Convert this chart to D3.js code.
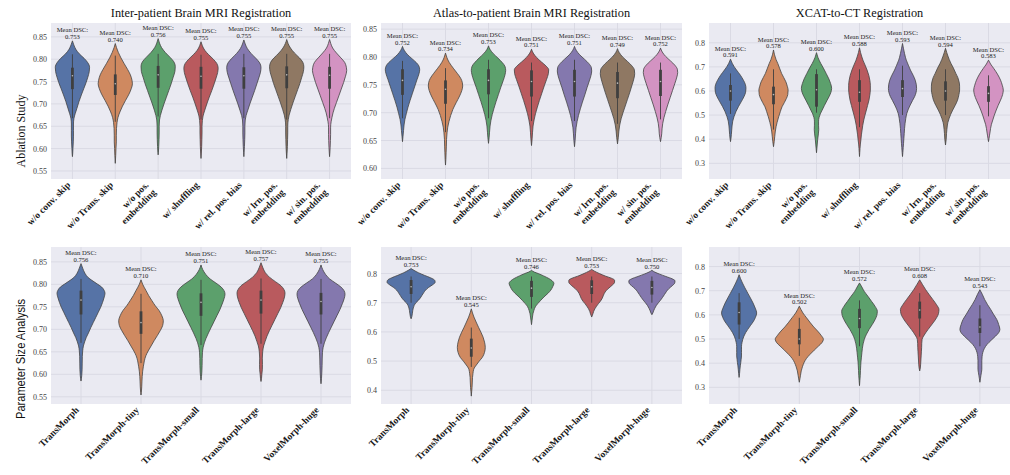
<!DOCTYPE html>
<html><head><meta charset="utf-8">
<script src="https://cdn.jsdelivr.net/npm/d3@7"></script>
<style>body{margin:0;background:#fff}svg{display:block}</style>
</head><body><svg id="chart" width="1010" height="475"></svg>
<script>
// ---- categories and labels ----
const ablationLabels = ["w/o conv. skip","w/o Trans. skip","w/o pos.\nembedding","w/ shuffling","w/ rel. pos. bias","w/ lrn. pos.\nembedding","w/ sin. pos.\nembedding"];
const sizeLabels = ["TransMorph","TransMorph-tiny","TransMorph-small","TransMorph-large","VoxelMorph-huge"];
const columnTitles = ["Inter-patient Brain MRI Registration","Atlas-to-patient Brain MRI Registration","XCAT-to-CT Registration"];
const rowTitles = ["Ablation Study","Parameter Size Analysis"];
const palette = ["#5673a6","#cf8960","#5ca06c","#b95a5e","#8478ae","#8f7863","#d393c2"];

// ---- mean DSC per model ----
const interAblMeans = [0.753,0.740,0.756,0.755,0.755,0.755,0.755];
const atlasAblMeans = [0.752,0.734,0.753,0.751,0.751,0.749,0.752];
const xcatAblMeans  = [0.591,0.578,0.600,0.588,0.593,0.594,0.583];
const interSizeMeans = [0.756,0.710,0.751,0.757,0.755];
const atlasSizeMeans = [0.753,0.545,0.746,0.753,0.750];
const xcatSizeMeans  = [0.600,0.502,0.572,0.608,0.543];

// ---- y ticks and limits ----
const interAblTicks = [0.55,0.60,0.65,0.70,0.75,0.80,0.85];
const atlasAblTicks = [0.60,0.65,0.70,0.75,0.80,0.85];
const xcatAblTicks  = [0.3,0.4,0.5,0.6,0.7,0.8];
const interSizeTicks = [0.55,0.60,0.65,0.70,0.75,0.80,0.85];
const atlasSizeTicks = [0.4,0.5,0.6,0.7,0.8];
const xcatSizeTicks  = [0.3,0.4,0.5,0.6,0.7,0.8];
const interAblLimits = [0.532,0.881];
const atlasAblLimits = [0.581,0.861];
const xcatAblLimits  = [0.235,0.882];
const interSizeLimits = [0.534,0.883];
const atlasSizeLimits = [0.353,0.891];
const xcatSizeLimits  = [0.231,0.881];

// ---- inner box: [q1, median, q3, lower whisker, upper whisker] ----
const interAblBox = [[.733,.763,.781,.668,.811],[.720,.745,.766,.660,.808],[.736,.765,.785,.672,.812],[.734,.762,.783,.665,.810],[.734,.763,.782,.668,.812],[.735,.765,.784,.665,.812],[.734,.764,.783,.668,.812]];
const atlasAblBox = [[.732,.758,.778,.690,.793],[.716,.742,.758,.665,.780],[.733,.758,.778,.690,.795],[.729,.756,.776,.685,.790],[.729,.756,.777,.685,.795],[.726,.753,.773,.680,.790],[.730,.756,.777,.688,.790]];
const xcatAblBox = [[.560,.600,.625,.505,.673],[.545,.585,.618,.440,.690],[.535,.605,.670,.510,.690],[.555,.595,.645,.450,.690],[.575,.610,.645,.500,.705],[.560,.600,.640,.500,.690],[.555,.590,.620,.495,.665]];
const interSizeBox = [[.733,.765,.786,.670,.812],[.690,.715,.740,.625,.779],[.730,.760,.780,.665,.810],[.735,.765,.786,.668,.813],[.733,.762,.781,.668,.812]];
const atlasSizeBox = [[.730,.755,.778,.700,.790],[.515,.545,.577,.480,.615],[.720,.750,.775,.680,.790],[.730,.755,.777,.700,.790],[.728,.752,.775,.700,.790]];
const xcatSizeBox = [[.560,.610,.652,.500,.690],[.478,.500,.542,.430,.588],[.545,.585,.625,.470,.660],[.585,.620,.655,.510,.690],[.525,.550,.585,.470,.640]];

// ---- density outlines: [DSC value, half-width relative to the widest violin] ----
const interAblShape = [
 [[.841,0],[.832,.08],[.822,.2],[.812,.4],[.802,.68],[.792,.9],[.782,1],[.772,.98],[.760,.9],[.748,.8],[.735,.67],[.720,.52],[.705,.38],[.690,.26],[.678,.16],[.668,.09],[.655,.06],[.640,.06],[.628,.06],[.615,.05],[.600,.03],[.588,.015],[.582,0]],
 [[.835,0],[.826,.07],[.815,.18],[.803,.33],[.790,.52],[.777,.72],[.765,.88],[.752,.98],[.745,1],[.735,.94],[.722,.8],[.708,.6],[.695,.42],[.682,.27],[.670,.16],[.658,.1],[.645,.07],[.630,.06],[.615,.06],[.600,.04],[.585,.025],[.567,0]],
 [[.846,0],[.836,.08],[.826,.2],[.815,.42],[.804,.7],[.794,.92],[.784,1],[.773,.98],[.760,.88],[.745,.76],[.730,.62],[.715,.48],[.700,.34],[.686,.22],[.674,.13],[.664,.08],[.650,.06],[.635,.06],[.620,.05],[.605,.035],[.592,.015],[.586,0]],
 [[.839,0],[.830,.08],[.820,.22],[.810,.45],[.800,.72],[.790,.93],[.780,1],[.770,.97],[.758,.88],[.745,.77],[.730,.63],[.715,.48],[.700,.34],[.686,.22],[.673,.12],[.663,.08],[.650,.06],[.635,.06],[.620,.05],[.605,.04],[.590,.02],[.578,0]],
 [[.843,0],[.834,.08],[.824,.2],[.813,.42],[.802,.7],[.792,.92],[.782,1],[.771,.97],[.758,.87],[.745,.76],[.730,.63],[.715,.49],[.700,.35],[.686,.23],[.674,.13],[.664,.08],[.650,.06],[.635,.06],[.620,.05],[.605,.035],[.592,.015],[.582,0]],
 [[.844,0],[.835,.08],[.825,.22],[.814,.45],[.803,.74],[.793,.94],[.783,1],[.772,.97],[.760,.88],[.746,.77],[.732,.64],[.717,.5],[.702,.36],[.688,.24],[.675,.14],[.665,.09],[.650,.06],[.635,.06],[.620,.05],[.605,.04],[.590,.02],[.578,0]],
 [[.844,0],[.835,.07],[.825,.18],[.814,.4],[.803,.66],[.793,.88],[.782,.98],[.775,1],[.762,.93],[.748,.82],[.733,.68],[.718,.54],[.703,.4],[.690,.28],[.680,.2],[.670,.14],[.660,.09],[.648,.06],[.632,.06],[.618,.05],[.603,.035],[.590,.015],[.582,0]]
];
const atlasAblShape = [
 [[.819,0],[.812,.1],[.804,.3],[.797,.55],[.790,.8],[.784,.95],[.777,1],[.770,.96],[.760,.85],[.748,.72],[.735,.58],[.722,.44],[.710,.32],[.698,.22],[.688,.14],[.678,.09],[.668,.06],[.658,.03],[.648,0]],
 [[.807,0],[.799,.08],[.790,.22],[.780,.45],[.770,.7],[.762,.88],[.754,.98],[.748,1],[.740,.95],[.730,.82],[.718,.62],[.706,.43],[.695,.3],[.684,.2],[.674,.13],[.664,.09],[.652,.06],[.640,.05],[.628,.035],[.616,.02],[.606,0]],
 [[.820,0],[.813,.1],[.806,.28],[.798,.55],[.790,.8],[.783,.96],[.776,1],[.768,.96],[.758,.86],[.746,.72],[.733,.58],[.720,.44],[.708,.32],[.697,.22],[.686,.14],[.676,.09],[.665,.06],[.655,.035],[.645,0]],
 [[.814,0],[.807,.1],[.799,.3],[.791,.58],[.784,.84],[.777,1],[.770,.98],[.760,.88],[.748,.74],[.735,.6],[.722,.46],[.710,.34],[.698,.23],[.687,.15],[.676,.09],[.665,.06],[.653,.035],[.641,0]],
 [[.819,0],[.812,.1],[.804,.3],[.796,.58],[.788,.84],[.781,.98],[.775,1],[.767,.96],[.757,.86],[.745,.73],[.732,.6],[.719,.46],[.707,.34],[.695,.23],[.684,.15],[.673,.09],[.662,.06],[.650,.035],[.639,0]],
 [[.815,0],[.808,.1],[.800,.3],[.792,.58],[.784,.84],[.777,.98],[.770,1],[.762,.96],[.750,.85],[.737,.72],[.724,.58],[.712,.45],[.700,.32],[.689,.21],[.678,.13],[.667,.08],[.655,.045],[.644,0]],
 [[.816,0],[.809,.1],[.801,.3],[.793,.58],[.785,.84],[.778,.98],[.772,1],[.764,.95],[.753,.84],[.740,.7],[.727,.56],[.714,.42],[.702,.3],[.691,.2],[.681,.13],[.671,.09],[.662,.07],[.655,.04],[.648,0]]
];
const xcatAblShape = [
 [[.732,0],[.715,.1],[.700,.22],[.687,.35],[.665,.58],[.645,.75],[.628,.86],[.611,.9],[.595,.88],[.576,.78],[.555,.62],[.535,.46],[.515,.32],[.493,.2],[.475,.13],[.455,.09],[.438,.07],[.420,.05],[.405,.03],[.390,0]],
 [[.770,0],[.750,.06],[.730,.15],[.714,.25],[.695,.35],[.673,.47],[.655,.6],[.638,.72],[.620,.8],[.604,.85],[.585,.83],[.569,.75],[.552,.63],[.535,.5],[.515,.4],[.493,.3],[.470,.21],[.452,.15],[.430,.1],[.410,.07],[.390,.04],[.369,0]],
 [[.759,0],[.740,.08],[.725,.17],[.714,.25],[.695,.4],[.673,.56],[.650,.72],[.631,.82],[.611,.88],[.595,.84],[.578,.74],[.562,.62],[.540,.46],[.521,.33],[.505,.22],[.490,.15],[.475,.12],[.458,.12],[.440,.13],[.422,.11],[.400,.07],[.380,.045],[.360,.02],[.344,0]],
 [[.779,0],[.760,.06],[.745,.12],[.728,.2],[.708,.32],[.687,.44],[.665,.54],[.645,.6],[.624,.63],[.604,.63],[.583,.6],[.562,.55],[.540,.47],[.521,.4],[.500,.32],[.480,.25],[.458,.19],[.438,.15],[.418,.11],[.397,.08],[.380,.05],[.362,.03],[.345,.015],[.328,0]],
 [[.797,0],[.775,.06],[.755,.12],[.740,.17],[.728,.22],[.707,.34],[.687,.46],[.665,.62],[.645,.74],[.628,.8],[.611,.82],[.594,.79],[.576,.7],[.560,.58],[.542,.45],[.525,.34],[.507,.25],[.486,.19],[.466,.15],[.445,.12],[.424,.1],[.404,.08],[.383,.06],[.365,.04],[.345,.02],[.328,0]],
 [[.777,0],[.760,.07],[.745,.14],[.730,.22],[.714,.32],[.695,.46],[.673,.6],[.655,.72],[.638,.79],[.620,.82],[.604,.82],[.585,.78],[.562,.7],[.540,.56],[.521,.42],[.503,.3],[.486,.21],[.470,.14],[.459,.11],[.440,.08],[.424,.06],[.400,.04],[.376,0]],
 [[.728,0],[.712,.12],[.694,.3],[.670,.52],[.645,.7],[.624,.8],[.604,.86],[.585,.82],[.562,.7],[.540,.56],[.521,.45],[.500,.34],[.480,.25],[.462,.17],[.445,.12],[.430,.09],[.417,.06],[.403,.03],[.390,0]]
];
const interSizeShape = [
 [[.846,0],[.836,.07],[.824,.17],[.815,.3],[.809,.45],[.800,.7],[.794,.86],[.787,.96],[.780,1],[.772,.97],[.760,.9],[.749,.82],[.738,.72],[.727,.62],[.715,.51],[.704,.41],[.692,.31],[.682,.22],[.672,.15],[.663,.1],[.652,.07],[.640,.055],[.625,.05],[.610,.045],[.597,.03],[.590,.015],[.585,0]],
 [[.810,0],[.800,.07],[.787,.2],[.775,.32],[.764,.45],[.752,.6],[.742,.75],[.730,.87],[.719,.93],[.708,.9],[.697,.8],[.686,.68],[.675,.55],[.663,.42],[.652,.3],[.641,.2],[.630,.14],[.618,.1],[.607,.07],[.595,.05],[.585,.04],[.572,.03],[.560,.015],[.554,0]],
 [[.843,0],[.833,.07],[.822,.2],[.812,.38],[.803,.62],[.794,.84],[.786,.96],[.778,1],[.768,.96],[.756,.88],[.743,.78],[.730,.66],[.717,.54],[.704,.42],[.692,.31],[.680,.21],[.670,.14],[.660,.09],[.648,.06],[.635,.05],[.620,.045],[.605,.035],[.595,.02],[.587,0]],
 [[.848,0],[.838,.07],[.826,.18],[.816,.35],[.806,.6],[.797,.83],[.789,.95],[.781,1],[.772,.98],[.760,.91],[.748,.82],[.735,.7],[.722,.58],[.709,.46],[.697,.35],[.685,.25],[.673,.17],[.663,.11],[.650,.07],[.636,.055],[.622,.06],[.610,.055],[.600,.035],[.590,.02],[.584,0]],
 [[.843,0],[.833,.07],[.822,.19],[.812,.36],[.803,.6],[.794,.83],[.786,.96],[.778,1],[.769,.97],[.757,.89],[.744,.79],[.731,.67],[.718,.55],[.705,.43],[.693,.32],[.681,.22],[.670,.14],[.660,.09],[.648,.06],[.634,.05],[.620,.045],[.605,.035],[.590,.02],[.579,0]]
];
const atlasSizeShape = [
 [[.817,0],[.811,.12],[.803,.3],[.794,.55],[.785,.82],[.777,.98],[.770,1],[.762,.9],[.752,.72],[.743,.6],[.734,.52],[.725,.45],[.716,.38],[.708,.3],[.700,.2],[.691,.13],[.682,.09],[.674,.07],[.662,.05],[.652,.03],[.645,0]],
 [[.679,0],[.665,.05],[.651,.11],[.634,.2],[.616,.3],[.599,.4],[.582,.49],[.565,.55],[.547,.58],[.530,.55],[.513,.46],[.500,.33],[.490,.24],[.480,.15],[.472,.1],[.458,.07],[.444,.05],[.425,.04],[.409,.03],[.395,.015],[.380,0]],
 [[.811,0],[.805,.12],[.800,.28],[.792,.5],[.783,.72],[.775,.86],[.766,.93],[.755,.88],[.743,.8],[.732,.68],[.720,.52],[.708,.38],[.697,.26],[.686,.16],[.674,.1],[.662,.06],[.651,.04],[.638,.02],[.625,0]],
 [[.814,0],[.808,.12],[.800,.32],[.791,.58],[.784,.82],[.777,.95],[.770,.95],[.760,.85],[.748,.68],[.737,.56],[.726,.49],[.714,.43],[.705,.36],[.697,.28],[.688,.2],[.679,.13],[.670,.08],[.662,.05],[.651,0]],
 [[.811,0],[.805,.12],[.798,.32],[.790,.58],[.782,.84],[.775,.96],[.768,.95],[.758,.84],[.748,.7],[.738,.6],[.728,.52],[.718,.44],[.709,.36],[.700,.27],[.690,.18],[.681,.12],[.672,.07],[.665,.04],[.659,0]]
];
const xcatSizeShape = [
 [[.766,0],[.750,.06],[.732,.14],[.712,.24],[.690,.36],[.670,.47],[.649,.58],[.628,.67],[.608,.73],[.590,.68],[.574,.6],[.557,.48],[.540,.36],[.526,.27],[.512,.2],[.498,.15],[.485,.12],[.470,.1],[.458,.1],[.444,.1],[.430,.1],[.416,.085],[.403,.07],[.389,.05],[.375,.035],[.358,.02],[.341,0]],
 [[.636,0],[.622,.07],[.608,.15],[.588,.3],[.567,.46],[.550,.6],[.533,.76],[.516,.9],[.499,1],[.485,.94],[.471,.8],[.454,.62],[.437,.45],[.420,.3],[.403,.2],[.385,.13],[.368,.08],[.350,.05],[.335,.025],[.321,0]],
 [[.732,0],[.715,.1],[.697,.2],[.677,.35],[.656,.5],[.635,.65],[.615,.74],[.598,.72],[.581,.65],[.560,.53],[.540,.4],[.520,.29],[.499,.2],[.480,.15],[.462,.12],[.444,.1],[.425,.08],[.405,.06],[.389,.05],[.370,.04],[.348,.03],[.328,.015],[.307,0]],
 [[.745,0],[.725,.12],[.704,.25],[.683,.4],[.663,.55],[.642,.7],[.622,.8],[.605,.78],[.588,.7],[.570,.58],[.553,.45],[.540,.35],[.526,.25],[.512,.16],[.499,.1],[.482,.085],[.464,.08],[.447,.07],[.430,.06],[.413,.05],[.396,.04],[.380,.025],[.368,0]],
 [[.704,0],[.685,.1],[.663,.2],[.642,.32],[.622,.45],[.600,.58],[.581,.7],[.560,.78],[.540,.83],[.526,.78],[.512,.65],[.495,.47],[.478,.3],[.460,.18],[.444,.12],[.427,.09],[.410,.08],[.392,.08],[.375,.08],[.360,.06],[.348,.04],[.335,.02],[.321,0]]
];

// ---- layout ----
const SERIF = "'Liberation Serif','Times New Roman',serif";
const colX = [[51,351],[381,682],[709,1010]];
const rowY = [[23,179],[247,404]];

const panels = [
  {row:0,col:0,cats:ablationLabels,means:interAblMeans,box:interAblBox,shape:interAblShape,ticks:interAblTicks,lim:interAblLimits,fmt:".2f"},
  {row:0,col:1,cats:ablationLabels,means:atlasAblMeans,box:atlasAblBox,shape:atlasAblShape,ticks:atlasAblTicks,lim:atlasAblLimits,fmt:".2f"},
  {row:0,col:2,cats:ablationLabels,means:xcatAblMeans,box:xcatAblBox,shape:xcatAblShape,ticks:xcatAblTicks,lim:xcatAblLimits,fmt:".1f"},
  {row:1,col:0,cats:sizeLabels,means:interSizeMeans,box:interSizeBox,shape:interSizeShape,ticks:interSizeTicks,lim:interSizeLimits,fmt:".2f"},
  {row:1,col:1,cats:sizeLabels,means:atlasSizeMeans,box:atlasSizeBox,shape:atlasSizeShape,ticks:atlasSizeTicks,lim:atlasSizeLimits,fmt:".1f"},
  {row:1,col:2,cats:sizeLabels,means:xcatSizeMeans,box:xcatSizeBox,shape:xcatSizeShape,ticks:xcatSizeTicks,lim:xcatSizeLimits,fmt:".1f"}
];

const svg = d3.select("#chart");
svg.append("rect").attr("width",1010).attr("height",475).attr("fill","#fff");

panels.forEach((p, pi) => {
  const [left, right] = colX[p.col];
  const [top, bottom] = rowY[p.row];
  const x = d3.scaleBand().domain(p.cats).range([left, right]).padding(0);
  const y = d3.scaleLinear().domain(p.lim).range([bottom, top]);
  const cx = c => x(c) + x.bandwidth() / 2;
  const half = x.bandwidth() * 0.4;
  const g = svg.append("g");

  g.append("clipPath").attr("id", "clip" + pi)
    .append("rect").attr("x", left).attr("y", top).attr("width", right - left).attr("height", bottom - top);

  g.append("rect").attr("x", left).attr("y", top).attr("width", right - left).attr("height", bottom - top)
    .attr("fill", "#eaeaf2");

  // grid
  g.selectAll(null).data(p.ticks).join("line")
    .attr("x1", left).attr("x2", right).attr("y1", d => y(d)).attr("y2", d => y(d))
    .attr("stroke", "#dadae4").attr("stroke-width", 1);
  g.selectAll(null).data(p.cats).join("line")
    .attr("x1", d => cx(d)).attr("x2", d => cx(d)).attr("y1", top).attr("y2", bottom)
    .attr("stroke", "#dadae4").attr("stroke-width", 1);

  // y axis
  const ax = g.append("g").attr("transform", `translate(${left},0)`)
    .call(d3.axisLeft(y).tickValues(p.ticks).tickFormat(d3.format(p.fmt)).tickSize(0).tickPadding(4));
  ax.select(".domain").remove();
  ax.attr("font-family", SERIF).attr("font-size", 8);
  ax.selectAll("text").attr("fill", "#444");

  // violins with inner box plots
  const vg = g.append("g").attr("clip-path", `url(#clip${pi})`);
  p.cats.forEach((c, i) => {
    const xc = cx(c);
    const area = d3.area().curve(d3.curveMonotoneY)
      .y(d => y(d[0])).x0(d => xc - d[1] * half).x1(d => xc + d[1] * half);
    vg.append("path").datum(p.shape[i]).attr("d", area)
      .attr("fill", palette[i]).attr("stroke", "#444").attr("stroke-width", 0.8);
    const [q1, med, q3, wlo, whi] = p.box[i];
    vg.append("line").attr("x1", xc).attr("x2", xc).attr("y1", y(whi)).attr("y2", y(wlo))
      .attr("stroke", "#3f3f3f").attr("stroke-width", 0.9);
    vg.append("line").attr("x1", xc).attr("x2", xc).attr("y1", y(q3)).attr("y2", y(q1))
      .attr("stroke", "#3f3f3f").attr("stroke-width", 2.8);
    vg.append("circle").attr("cx", xc).attr("cy", y(med)).attr("r", 0.8).attr("fill", "#bdbdbd");

    // mean annotation above the violin
    const tipY = y(p.shape[i][0][0]);
    const t = g.append("text").attr("font-family", SERIF).attr("font-size", 6.6)
      .attr("fill", "#222").attr("text-anchor", "middle");
    t.append("tspan").attr("x", xc).attr("y", tipY - 8.5).text("Mean DSC:");
    t.append("tspan").attr("x", xc).attr("y", tipY - 1.7).text(d3.format(".3f")(p.means[i]));
  });

  // rotated category labels
  const fs = 9.5, lh = 10.5, asc = 0.68 * fs, desc = 0.22 * fs, k = Math.SQRT1_2;
  p.cats.forEach(c => {
    const lines = c.split("\n");
    const ex = cx(c) - k * ((lines.length - 1) * lh + desc);
    const ey = bottom + 2 + k * asc;
    const t = g.append("text").attr("transform", `translate(${ex},${ey}) rotate(-45)`)
      .attr("font-family", SERIF).attr("font-size", fs).attr("font-weight", "bold")
      .attr("fill", "#1a1a1a").attr("text-anchor", "end");
    lines.forEach((ln, j) => t.append("tspan").attr("x", 0).attr("y", j * lh).text(ln));
  });

  if (p.row === 0) {
    g.append("text").attr("x", (left + right) / 2).attr("y", 17).attr("text-anchor", "middle")
      .attr("font-family", SERIF).attr("font-size", 12.3).attr("fill", "#111").text(columnTitles[p.col]);
  }
});

// row labels
svg.append("text").attr("transform", "translate(25,131) rotate(-90)").attr("text-anchor", "middle")
  .attr("font-family", SERIF).attr("font-size", 12).attr("fill", "#111").text(rowTitles[0]);
svg.append("text").attr("transform", "translate(25,359) rotate(-90)").attr("text-anchor", "middle")
  .attr("font-family", "'Liberation Sans Narrow','Liberation Sans',Arial,sans-serif").attr("font-size", 12.5)
  .attr("textLength", 120).attr("lengthAdjust", "spacingAndGlyphs")
  .attr("fill", "#111").text(rowTitles[1]);
</script></body></html>
